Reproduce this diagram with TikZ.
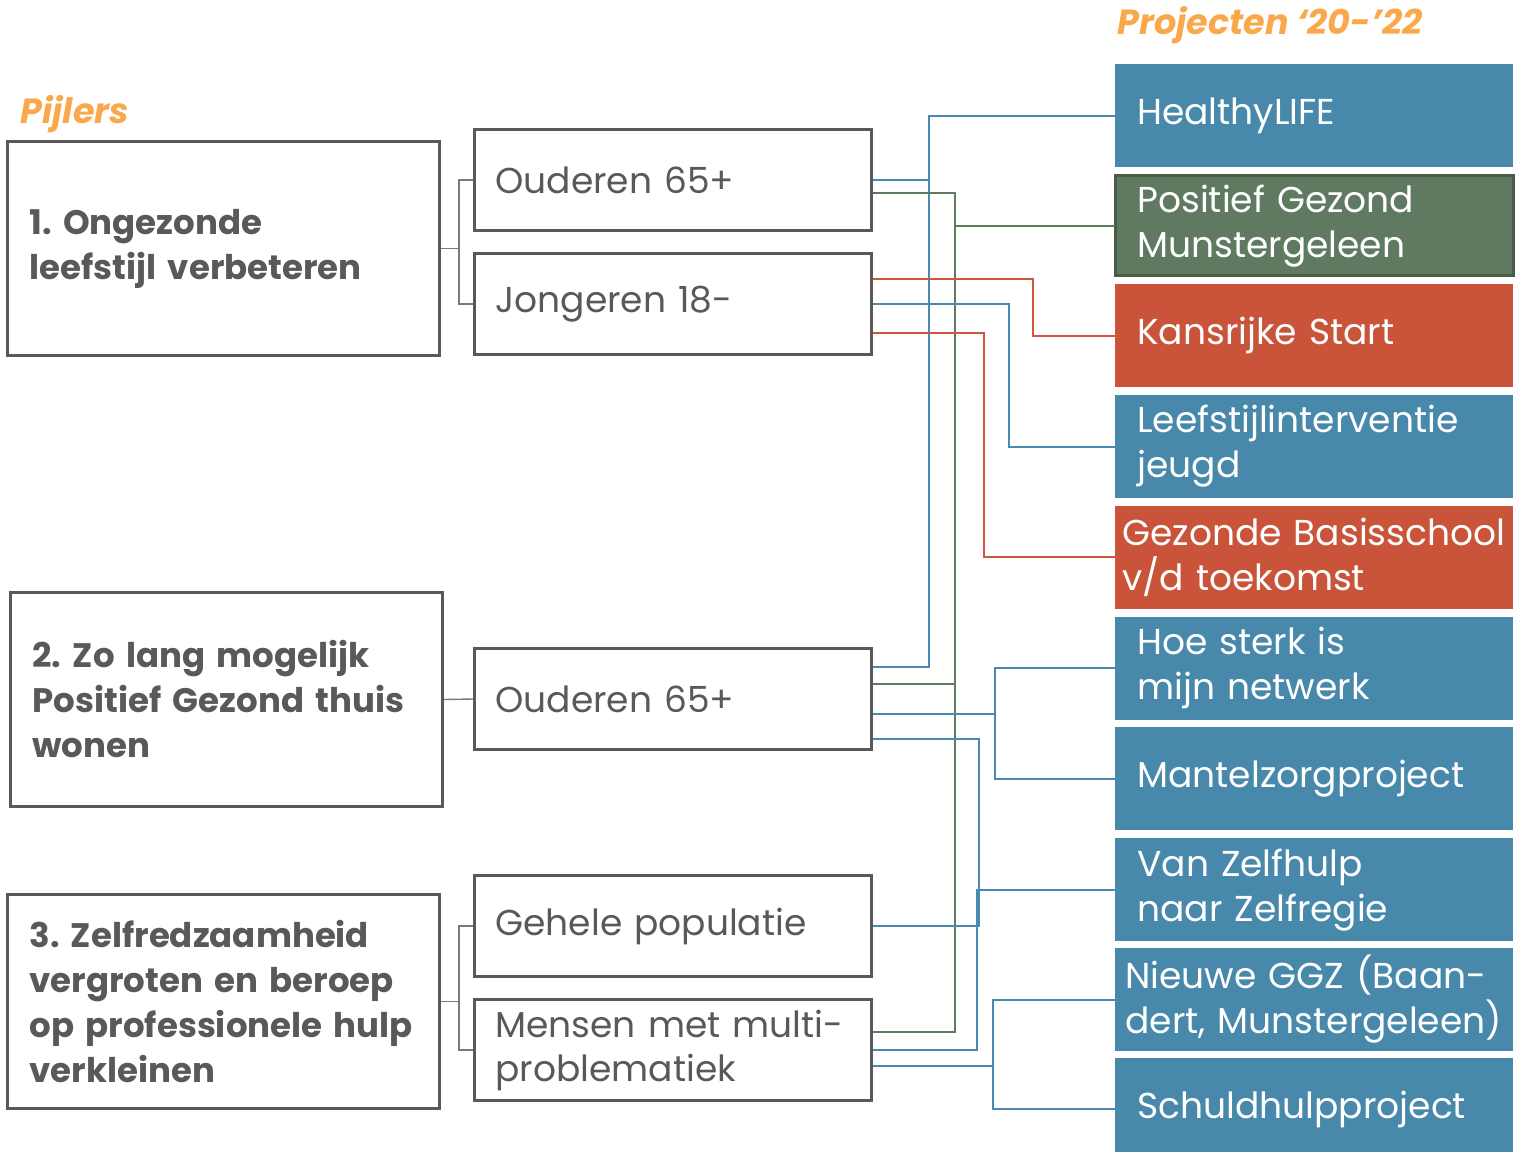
\documentclass[tikz,border=0pt]{standalone}
\usepackage{fontspec}
\setmainfont{Poppins}
\usetikzlibrary{positioning,calc}
\frenchspacing
\hyphenpenalty=10000
\exhyphenpenalty=10000
\definecolor{projblue}{HTML}{4788AB}
\definecolor{projgreen}{HTML}{5F7A61}
\definecolor{projgreenline}{HTML}{4A5C49}
\definecolor{projred}{HTML}{C9543A}
\definecolor{headorange}{HTML}{F9A94B}
\definecolor{boxgrey}{HTML}{595959}
\definecolor{linkblue}{HTML}{4A8AB0}
\definecolor{linkgreen}{HTML}{5E7B60}
\definecolor{linkred}{HTML}{D2553C}
\tikzset{
  pillar/.style={rectangle, draw=boxgrey, line width=1.5pt, anchor=north west, minimum width=216pt, minimum height=107pt, inner xsep=11pt, text width=194pt, align=left, text=boxgrey, font=\bfseries\fontsize{17}{22.5}\selectfont},
  group/.style={rectangle, draw=boxgrey, line width=1.5pt, anchor=north west, minimum width=198.5pt, minimum height=50.5pt, inner xsep=10.5pt, text width=177.5pt, align=left, text=boxgrey, font=\fontsize{18}{22}\selectfont},
  proj/.style={rectangle, anchor=north west, minimum width=199pt, minimum height=51.5pt, inner xsep=11pt, text width=177pt, align=left, text=white, font=\fontsize{18}{22.5}\selectfont},
  head/.style={anchor=west, inner sep=0pt, text=headorange, font=\bfseries\itshape\fontsize{17.5}{21}\selectfont},
  tree/.style={draw=boxgrey!80, line width=0.7pt},
  link/.style={line width=1pt}
}

\begin{document}
\begin{tikzpicture}[x=0.5pt, y=-0.5pt]
  \useasboundingbox (0,0) rectangle (1518,1151);
  \node[head] (H1) at (20,114) {Pijlers};
  \node[head] (H2) at (1117,25) {Projecten ‘20-’22};

  \node[pillar] (P1) at (6,140) {1. Ongezonde\\leefstijl verbeteren};
  \node[pillar] (P2) at (9,591) {2. Zo lang mogelijk\\Positief Gezond thuis\\wonen};
  \node[pillar] (P3) at (6,893) {3. Zelfredzaamheid\\vergroten en beroep\\op professionele hulp\\verkleinen};

  \node[group] (G1) at (473,128) {Ouderen 65+};
  \node[group] (G2) [below=10pt of G1] {Jongeren 18-};
  \node[group] (G3) at (473,647) {Ouderen 65+};
  \node[group] (G4) at (473,874) {Gehele populatie};
  \node[group] (G5) [below=10pt of G4] {Mensen met multi-\\problematiek};

  \node[proj,fill=projblue] (HL) at (1115,64) {HealthyLIFE};
  \node[proj,fill=projgreen,draw=projgreenline,line width=1.5pt,minimum height=50pt,outer sep=0pt] (PG) [below=4pt of HL] {Positief Gezond\\Munstergeleen};
  \node[proj,fill=projred] (KS) [below=4pt of PG] {Kansrijke Start};
  \node[proj,fill=projblue] (LI) [below=3.5pt of KS] {Leefstijlinterventie\\jeugd};
  \node[proj,fill=projred,inner xsep=3.5pt,text width=192pt] (GB) [below=3.5pt of LI] {Gezonde Basisschool\\v/d toekomst};
  \node[proj,fill=projblue] (HS) [below=3.5pt of GB] {Hoe sterk is\\mijn netwerk};
  \node[proj,fill=projblue] (MZ) [below=3.5pt of HS] {Mantelzorgproject};
  \node[proj,fill=projblue] (ZR) [below=3.5pt of MZ] {Van Zelfhulp\\naar Zelfregie};
  \node[proj,fill=projblue,inner xsep=5pt,text width=189pt] (GGZ) [below=3pt of ZR] {\mbox{Nieuwe GGZ (Baan-}\\\mbox{dert, Munstergeleen)}};
  \node[proj,fill=projblue] (SH) [below=3pt of GGZ] {Schuldhulpproject};

  % pijlers naar doelgroepen
  \draw[tree] (P1.east) -- ++(18,0) |- (G1.west);
  \draw[tree] (P1.east) -- ++(18,0) |- (G2.west);
  \draw[tree] (P2.east) -- (G3.west);
  \draw[tree] (P3.east) -- ++(18,0) |- (G4.west);
  \draw[tree] (P3.east) -- ++(18,0) |- (G5.west);

  % doelgroepen naar projecten
  \draw[link,linkblue] (G1.east) -- ++(56,0) |- (HL.west);
  \draw[link,linkblue] ($(G3.east)+(0,-32.5)$) -- ++(56,0) |- (HL.west);
  \draw[link,linkgreen] ($(G1.east)+(0,12.5)$) -- ++(82,0) |- (PG.west);
  \draw[link,linkgreen] ($(G3.east)+(0,-15.5)$) -- ++(82,0) |- (PG.west);
  \draw[link,linkgreen] ($(G5.east)+(0,-18.5)$) -- ++(82,0) |- (PG.west);
  \draw[link,linkred] ($(G2.east)+(0,-25.5)$) -- ++(160,0) |- (KS.west);
  \draw[link,linkblue] (G2.east) -- ++(136,0) |- (LI.west);
  \draw[link,linkred] ($(G2.east)+(0,28.5)$) -- ++(111,0) |- (GB.west);
  \draw[link,linkblue] ($(G3.east)+(0,14.5)$) -- ++(122,0) |- (HS.west);
  \draw[link,linkblue] ($(G3.east)+(0,14.5)$) -- ++(122,0) |- (MZ.west);
  \draw[link,linkblue] ($(G3.east)+(0,39.5)$) -- ++(106,0) |- (ZR.west);
  \draw[link,linkblue] (G4.east) -- ++(106,0) |- (ZR.west);
  \draw[link,linkblue] (G5.east) -- ++(104,0) |- (ZR.west);
  \draw[link,linkblue] ($(G5.east)+(0,15.5)$) -- ++(120,0) |- (GGZ.west);
  \draw[link,linkblue] ($(G5.east)+(0,15.5)$) -- ++(120,0) |- (SH.west);
\end{tikzpicture}
\end{document}
